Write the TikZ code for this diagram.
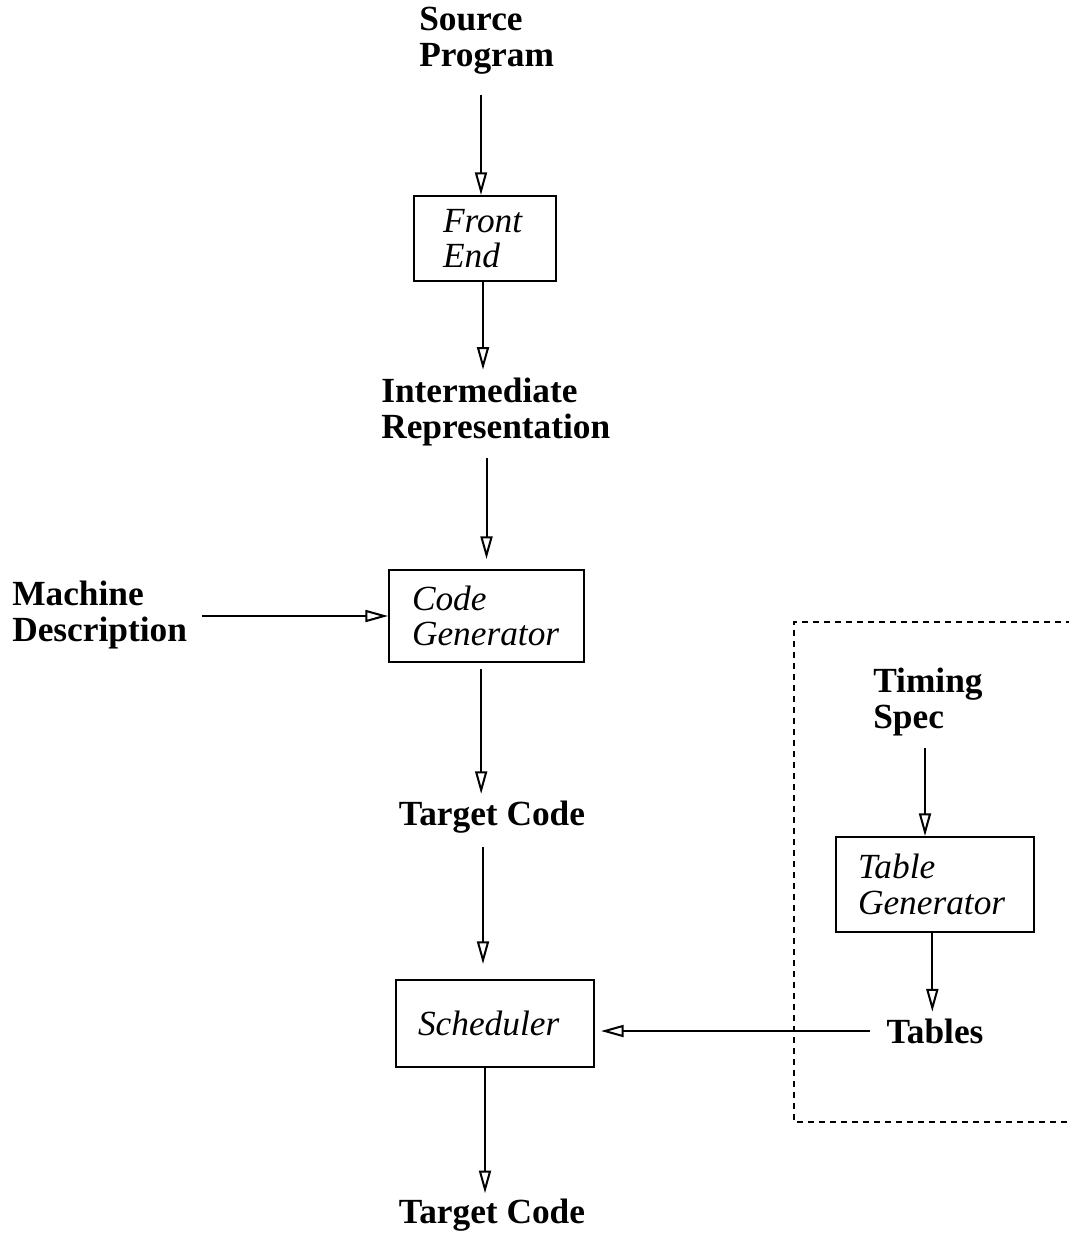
\documentclass[tikz,border=0pt]{standalone}
\usepackage{fontspec}
\setmainfont{Liberation Serif}
\usetikzlibrary{arrows.meta}
\tikzset{
  lbl/.style={font=\fontsize{26.5}{27}\selectfont\bfseries, align=left, inner sep=0pt},
  boxn/.style={draw, line width=1.5pt, font=\fontsize{26.5}{26.5}\selectfont\itshape, align=left, inner ysep=0pt},
  arr/.style={line width=1.5pt, -{Triangle[open, length=17pt, width=9pt, line width=1.5pt]}},
  frame/.style={line width=1.5pt, dash pattern=on 4.5pt off 3.75pt}
}
\begin{document}
\begin{tikzpicture}[x=0.75pt, y=-0.75pt]
\useasboundingbox (0,0) rectangle (1068,1237);
% labels
\node[lbl, anchor=west] (src) at (419,41) {Source\\Program};
\node[lbl, anchor=west] (ir) at (381,412) {Intermediate\\Representation};
\node[lbl, anchor=west] (md) at (12,615) {Machine\\Description};
\node[lbl] (tc1) at (492,817) {Target Code};
\node[lbl] (tc2) at (492,1215) {Target Code};
\node[lbl, anchor=west] (ts) at (873,702) {Timing\\Spec};
\node[lbl] (tab) at (935,1031) {Tables};
% boxes
\node[boxn, minimum width=106.5pt, minimum height=63.75pt, text width=63pt, inner xsep=21.75pt] (fe) at (485,238.5) {Front\\End};
\node[boxn, minimum width=146.25pt, minimum height=69pt, text width=111.75pt, inner xsep=17.25pt] (cg) at (486.5,616) {Code\\Generator};
\node[boxn, minimum width=148.5pt, minimum height=65.25pt, text width=115.5pt, inner xsep=16.5pt] (sch) at (495,1023.5) {Scheduler};
\node[boxn, minimum width=148.5pt, minimum height=71.25pt, text width=115.5pt, inner xsep=16.5pt] (tg) at (935,884.5) {Table\\Generator};
% dotted frame
\draw[frame] (1072,622) -- (794,622) -- (794,1122) -- (1072,1122);
% connectors
\draw[arr, shorten <=15pt] ([xshift=-3pt]src.south -| fe.north) -- ([xshift=-3pt]fe.north);
\draw[arr, shorten >=6pt] ([xshift=-1.5pt]fe.south) -- ([xshift=-1.5pt]fe.south |- ir.north);
\draw[arr, shorten <=9pt, shorten >=7.5pt] (ir.south -| cg.north) -- (cg.north);
\draw[arr, shorten <=11pt] (md.east |- cg.west) -- (cg.west);
\draw[arr, shorten <=4.5pt, shorten >=5pt] ([xshift=-4pt]cg.south) -- ([xshift=-4pt]cg.south |- tc1.north);
\draw[arr, shorten <=10pt, shorten >=11.25pt] ([xshift=-9pt]tc1.south -| sch.north) -- ([xshift=-9pt]sch.north);
\draw[arr, shorten >=4pt] ([xshift=-7.5pt]sch.south) -- ([xshift=-7.5pt]sch.south |- tc2.north);
\draw[arr, shorten <=9pt] ([xshift=-7.5pt]ts.south -| tg.north) -- ([xshift=-7.5pt]tg.north);
\draw[arr, shorten >=5pt] ([xshift=-2pt]tg.south) -- ([xshift=-2pt]tg.south |- tab.north);
\draw[arr, shorten <=12pt, shorten >=4.5pt] (tab.west) -- (tab.west -| sch.east);
\end{tikzpicture}
\end{document}
